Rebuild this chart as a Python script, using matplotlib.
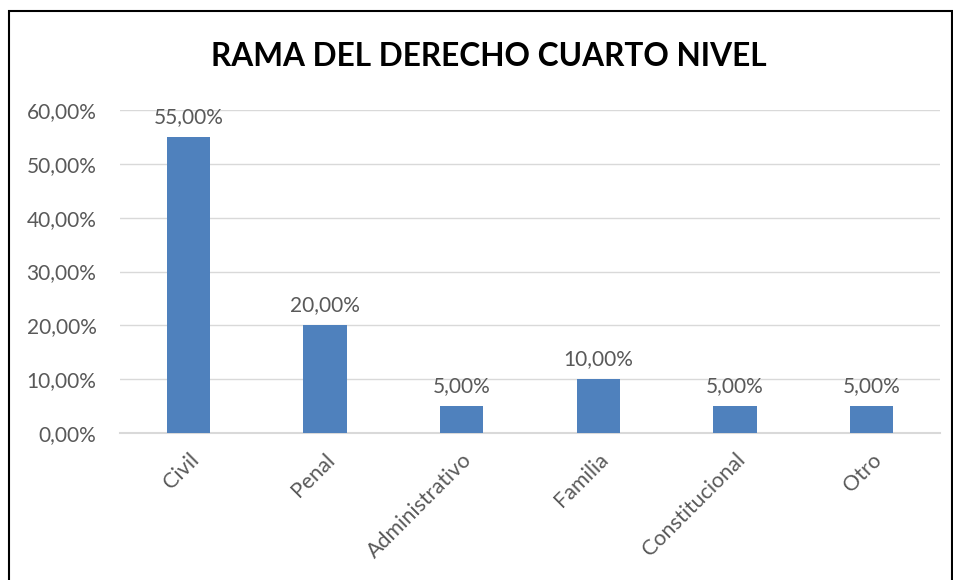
import matplotlib.pyplot as plt
from matplotlib.patches import Rectangle

categories = ['Civil', 'Penal', 'Administrativo', 'Familia', 'Constitucional', 'Otro']
values = [55.0, 20.0, 5.0, 10.0, 5.0, 5.0]
yticks = [0, 10, 20, 30, 40, 50, 60]

plt.rcParams['font.family'] = ['Lato', 'DejaVu Sans']
text_color = '#595959'

fig = plt.figure(figsize=(9.54, 5.8), dpi=100)
ax = fig.add_axes([120 / 954, 1 - 433 / 580, 820 / 954, 323 / 580])

x = range(len(categories))
ax.bar(x, values, width=0.315, color='#4f81bd', zorder=3)
for xi, v in zip(x, values):
    ax.text(xi, v + 1.9, f"{v:.2f}%".replace('.', ','), ha='center', va='bottom',
            fontsize=15, color=text_color)

ax.set_xlim(-0.5, len(categories) - 0.5)
ax.set_ylim(0, 60)
ax.set_yticks(yticks)
ax.set_yticklabels([f"{t:.2f}%".replace('.', ',') for t in yticks], fontsize=15, color=text_color)
ax.set_xticks(list(x))
ax.set_xticklabels(categories, rotation=45, ha='right', va='top', rotation_mode='anchor',
                   fontsize=15.5, color=text_color)
ax.tick_params(axis='both', length=0)
ax.tick_params(axis='y', pad=17)
ax.tick_params(axis='x', pad=12)
ax.grid(axis='y', color='#d9d9d9', linewidth=1, zorder=0)
for side in ['top', 'right', 'left']:
    ax.spines[side].set_visible(False)
ax.spines['bottom'].set_color('#d9d9d9')
ax.spines['bottom'].set_linewidth(1.5)

fig.text(489 / 954, 1 - 57 / 580, 'RAMA DEL DERECHO CUARTO NIVEL', ha='center', va='center',
         fontsize=22.8, fontweight='bold', color='black')

fig.patches.append(Rectangle((9 / 954, -0.01), 943 / 954, 1 - 11 / 580 + 0.01,
                             transform=fig.transFigure, fill=False, edgecolor='black', linewidth=1.5))

fig.savefig('out.png', dpi=100)
